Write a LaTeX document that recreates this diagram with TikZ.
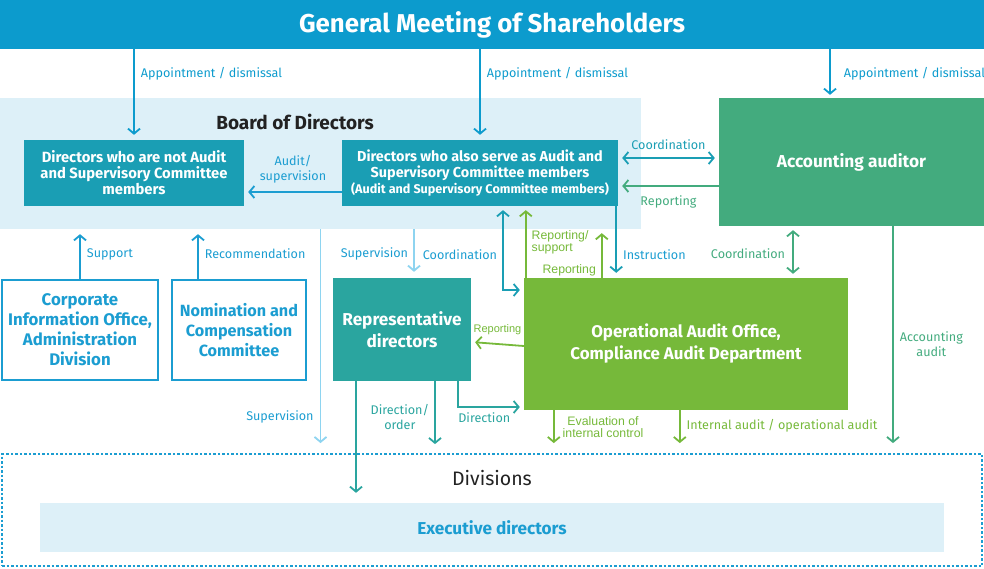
\documentclass[tikz,border=0pt]{standalone}
\usepackage{fontspec}
\setmainfont{Fira Sans}
\newfontfamily\arialfont{Liberation Sans}
\usetikzlibrary{arrows.meta}

\definecolor{gmblue}{HTML}{0C9BCD}
\definecolor{boardbg}{HTML}{DDF0F8}
\definecolor{dirteal}{HTML}{1A9EB4}
\definecolor{accgreen}{HTML}{43AB7E}
\definecolor{repteal}{HTML}{2AA59F}
\definecolor{opgreen}{HTML}{76B93A}
\definecolor{lblblue}{HTML}{1B9DD1}
\definecolor{supblue}{HTML}{8ED4F0}
\definecolor{darktxt}{HTML}{222222}

\tikzset{
  box/.style={rectangle, inner sep=0pt, align=center, text=white},
  lbl/.style={font=\fontsize{12.6}{14.5}\selectfont, inner sep=2pt, align=center},
  small/.style={font=\arialfont\fontsize{12.3}{12}\selectfont},
  conn/.style={line width=1.8pt, -{Straight Barb[length=5pt,width=12pt]}},
  both/.style={{Straight Barb[length=5pt,width=12pt]}-{Straight Barb[length=5pt,width=12pt]}},
}

\begin{document}
\begin{tikzpicture}[x=1pt, y=-1pt]
        \useasboundingbox (0,0) rectangle (984,569);

        % Shareholders and board
        \node[box, fill=gmblue, minimum width=984pt, minimum height=49pt, font=\fontsize{25.8}{30}\selectfont\bfseries] (gm) at (492,24.5) {General Meeting of Shareholders};
        \node[fill=boardbg, minimum width=641pt, minimum height=131pt, inner sep=0pt] (board) at (320.5,163.5) {};
        \node[text=darktxt, font=\fontsize{19}{22}\selectfont\bfseries] (boardtitle) at (295,122) {Board of Directors};
        \node[box, fill=dirteal, minimum width=220pt, minimum height=66pt, font=\fontsize{14.8}{16}\selectfont\bfseries] (dirnot) at (134,173) {Directors who are not Audit\\and Supervisory Committee\\members};
        \node[box, fill=dirteal, minimum width=276pt, minimum height=66pt, font=\fontsize{14.4}{16}\selectfont\bfseries] (diraud) at (480,173) {Directors who also serve as Audit and\\Supervisory Committee members\\{\fontsize{12.6}{14}\selectfont(Audit and Supervisory Committee members)}};
        \node[box, fill=accgreen, minimum width=265pt, minimum height=128pt, font=\fontsize{17.3}{20}\selectfont\bfseries] (acc) at (851.5,162) {Accounting auditor};

        % Middle row
        \node[box, draw=lblblue, line width=1.8pt, fill=white, text=lblblue, minimum width=156pt, minimum height=100pt, font=\fontsize{16.8}{20}\selectfont\bfseries] (corp) at (80,330) {Corporate\\Information Office,\\Administration\\Division};
        \node[box, draw=lblblue, line width=1.8pt, fill=white, text=lblblue, minimum width=134pt, minimum height=100pt, font=\fontsize{16.2}{20}\selectfont\bfseries] (nom) at (239,330) {Nomination and\\Compensation\\Committee};
        \node[box, fill=repteal, minimum width=138pt, minimum height=103pt, font=\fontsize{17.2}{22}\selectfont\bfseries] (rep) at (402,329.5) {Representative\\directors};
        \node[box, fill=opgreen, minimum width=324pt, minimum height=132pt, font=\fontsize{16.9}{22}\selectfont\bfseries] (op) at (686,344) {Operational Audit Office,\\Compliance Audit Department};

        % Divisions
        \node[draw=lblblue, line width=1.8pt, dash pattern=on 2.5pt off 2pt, minimum width=980pt, minimum height=112pt, inner sep=0pt] (div) at (492,510) {};
        \node[text=darktxt, font=\fontsize{19.5}{22}\selectfont] (divtitle) at (492,478) {Divisions};
        \node[box, fill=boardbg, text=lblblue, minimum width=904pt, minimum height=49pt, font=\fontsize{17.2}{20}\selectfont\bfseries] (exec) at (492,527.5) {Executive directors};

        \coordinate (accin) at ([xshift=-21.5pt]acc.north);
        \coordinate (nomout) at ([xshift=-41pt]nom.north);
        \coordinate (supr) at ([xshift=12pt]rep.north);
        \coordinate (crd) at ([xshift=23pt]diraud.south);
        \coordinate (rsup) at ([xshift=2pt]op.north west);
        \coordinate (rbrd) at ([xshift=78pt]op.north west);
        \coordinate (ins) at ([xshift=-2pt]diraud.south east);
        \coordinate (cao) at ([xshift=-58.5pt]acc.south);
        \coordinate (dir1) at ([xshift=56pt]rep.south);
        \coordinate (dir2) at ([xshift=33pt]rep.south);
        \coordinate (dir3) at ([xshift=-46pt]rep.south);
        \coordinate (aca) at ([xshift=41.5pt]acc.south);
        \coordinate (evl) at ([xshift=30pt]op.south west);
        \coordinate (iau) at ([xshift=156pt]op.south west);

        % Appointment / dismissal
        \draw[conn, gmblue, shorten >=5pt] (gm.south -| dirnot.north) -- (dirnot.north) node[lbl, right=4pt, pos=0.27] {Appointment / dismissal};
        \draw[conn, gmblue, shorten >=5pt] (gm.south -| diraud.north) -- (diraud.north) node[lbl, right=4pt, pos=0.27] {Appointment / dismissal};
        \draw[conn, gmblue, shorten >=3pt] (gm.south -| accin) -- (accin) node[lbl, right=11pt, pos=0.51] {Appointment / dismissal};

        % Inside the board
        \draw[conn, both, dirteal, shorten <=4pt, shorten >=4pt] ([yshift=15pt]diraud.east) -- ([yshift=4pt]acc.west) node[lbl, midway, above=5pt] {Coordination};
        \draw[conn, accgreen, shorten >=4pt] ([yshift=-24pt]acc.west) -- ([yshift=-13pt]diraud.east) node[lbl, midway, below=7pt] {Reporting};
        \draw[conn, lblblue, shorten >=4pt] ([yshift=-19pt]diraud.west) -- ([yshift=-19pt]dirnot.east) node[lbl, midway, above=6pt] {Audit/\\supervision};

        % Support and recommendation
        \draw[conn, lblblue, shorten >=5pt] (corp.north) -- (corp.north |- board.south) node[lbl, right=4pt, midway] {Support};
        \draw[conn, lblblue, shorten >=5pt] (nomout) -- (nomout |- board.south) node[lbl, right=4pt, midway] {Recommendation};

        % Supervision
        \draw[conn, supblue, shorten >=10pt] (board.south) -- (board.south |- div.north) node[lbl, left=4pt, pos=0.84, text=lblblue] {Supervision};
        \draw[conn, supblue, shorten >=6pt] (supr |- board.south) -- (supr) node[lbl, left=3pt, midway, text=lblblue] {Supervision};

        % Audit office links
        \draw[conn, both, dirteal, shorten <=4pt, shorten >=4pt] (crd) |- ([yshift=54pt]op.west) node[lbl, left=3pt, pos=0.29, text=lblblue] {Coordination};
        \draw[conn, opgreen, shorten >=4pt] (rsup) -- (rsup |- diraud.south) node[lbl, small, right=3pt, pos=0.5, align=left] {Reporting/\\support};
        \draw[conn, opgreen, shorten >=4pt] (rbrd) -- (rbrd |- board.south) node[lbl, small, left=3pt, pos=0.16] {Reporting};
        \draw[conn, dirteal, shorten >=5pt] (ins) -- (ins |- op.north) node[lbl, right=4pt, pos=0.67, text=lblblue] {Instruction};
        \draw[conn, both, accgreen, shorten <=4pt, shorten >=4pt] (cao) -- (cao |- op.north) node[lbl, left=5pt, pos=0.54] {Coordination};
        \draw[conn, opgreen, shorten >=4pt] ([yshift=-2pt]op.west) -- ([yshift=-12.5pt]rep.east) node[lbl, small, midway, above=6pt, font=\arialfont\fontsize{11}{12}\selectfont] {Reporting};

        % Directions from representative directors
        \draw[conn, repteal, shorten >=4pt] (dir1) |- ([yshift=-63pt]op.west) node[lbl, pos=0.70, below=3pt] {Direction};
        \draw[conn, repteal, shorten >=9pt] (dir2) -- (dir2 |- div.north) node[lbl, left=3pt, pos=0.5] {Direction/\\order};
        \draw[conn, repteal, shorten >=10pt] (dir3) -- (dir3 |- exec.north);

        % Audits down to the divisions
        \draw[conn, accgreen, shorten >=10pt] (aca) -- (aca |- div.north) node[lbl, right=4pt, pos=0.52] {Accounting\\audit};
        \draw[conn, opgreen, shorten >=10pt] (evl) -- (evl |- div.north) node[lbl, small, right=6pt, pos=0.4] {Evaluation of\\internal control};
        \draw[conn, opgreen, shorten >=10pt] (iau) -- (iau |- div.north) node[lbl, right=4pt, pos=0.37] {Internal audit / operational audit};
    \end{tikzpicture}
\end{document}
